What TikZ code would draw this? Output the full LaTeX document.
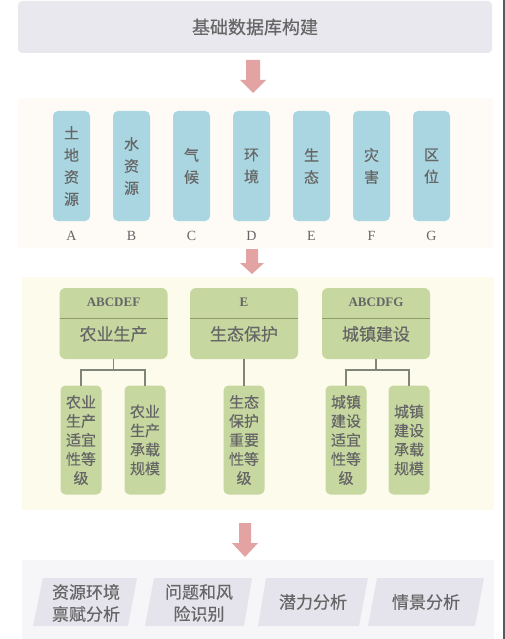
\documentclass[tikz,border=0pt]{standalone}
\usepackage{fontspec}
\setmainfont{Liberation Serif}
\newfontfamily\cjk[FakeBold=0.4]{Noto Sans CJK SC}
\definecolor{bannerc}{HTML}{E9E8EE}
\definecolor{arrowc}{HTML}{E3A3A2}
\definecolor{panelb}{HTML}{FEFAF5}
\definecolor{colc}{HTML}{A9D6E0}
\definecolor{panelc}{HTML}{FCFBEC}
\definecolor{greenc}{HTML}{C7D7A0}
\definecolor{greenl}{HTML}{8E9B6A}
\definecolor{linec}{HTML}{80857A}
\definecolor{paneld}{HTML}{F6F6F8}
\definecolor{parac}{HTML}{E5E4EC}
\definecolor{txtc}{HTML}{666666}
\definecolor{edgec}{HTML}{5A5A5A}
\begin{document}
\begin{tikzpicture}[x=1pt,y=-1pt,
  every node/.style={inner sep=0pt,outer sep=0pt,text=txtc},
  colbox/.style={rectangle,rounded corners=5pt,fill=colc,minimum width=37pt,minimum height=110pt,align=center,font=\cjk\fontsize{15}{22}\selectfont},
  letter/.style={font=\fontsize{14}{16}\selectfont},
  headbox/.style={rectangle,rounded corners=6pt,fill=greenc,minimum width=108pt,minimum height=71pt},
  headlab/.style={font=\bfseries\fontsize{13}{15}\selectfont},
  headtitle/.style={font=\cjk\fontsize{17}{20}\selectfont},
  subbox/.style={rectangle,rounded corners=5pt,fill=greenc,minimum width=41pt,minimum height=109pt,align=center,font=\cjk\fontsize{15}{19}\selectfont},
  conn/.style={draw=linec,line width=1.3pt},
  blockarrow/.style={fill=arrowc},
  paratext/.style={align=center,font=\cjk\fontsize{17}{22}\selectfont}
]
\useasboundingbox (0,0) rectangle (505,639);
\fill[white] (0,0) rectangle (505,639);
\fill[edgec] (503,0) rectangle (505,639);

% top banner
\node[fill=bannerc,rounded corners=4pt,minimum width=474pt,minimum height=52pt,font=\cjk\fontsize{18}{20}\selectfont] (top) at (255,27) {基础数据库构建};

% arrow 1
\fill[blockarrow] (246,60) -- (260,60) -- (260,80) -- (266,80) -- (253,93) -- (240,80) -- (246,80) -- cycle;

% panel 2
\node[fill=panelb,minimum width=475pt,minimum height=150pt] (p2) at (255.5,173) {};
\node[colbox] (cA) at (71.5,166) {土\\地\\资\\源};
\node[colbox] (cB) at (131.5,166) {水\\资\\源};
\node[colbox] (cC) at (191.5,166) {气\\候};
\node[colbox] (cD) at (251.5,166) {环\\境};
\node[colbox] (cE) at (311.5,166) {生\\态};
\node[colbox] (cF) at (371.5,166) {灾\\害};
\node[colbox] (cG) at (431.5,166) {区\\位};
\node[letter] (lA) at (71.5,236) {A};
\node[letter] (lB) at (131.5,236) {B};
\node[letter] (lC) at (191.5,236) {C};
\node[letter] (lD) at (251.5,236) {D};
\node[letter] (lE) at (311.5,236) {E};
\node[letter] (lF) at (371.5,236) {F};
\node[letter] (lG) at (431.5,236) {G};

% arrow 2
\fill[blockarrow] (246,249) -- (258,249) -- (258,263) -- (264,263) -- (252,274) -- (240,263) -- (246,263) -- cycle;

% panel 3
\node[fill=panelc,minimum width=472pt,minimum height=233pt] (p3) at (258,393.5) {};

\node[headbox] (g1) at (113.5,323.5) {};
\node[headbox] (g2) at (244,323.5) {};
\node[headbox] (g3) at (376,323.5) {};
\foreach \n in {g1,g2,g3}{
  \draw[greenl,line width=1pt] ([yshift=-30.5pt]\n.north west) -- ([yshift=-30.5pt]\n.north east);
}
\node[headlab] (h1) at (113.5,302.5) {ABCDEF};
\node[headlab] (h2) at (244,302.5) {E};
\node[headlab] (h3) at (376,302.5) {ABCDFG};
\node[headtitle] (t1) at (113.5,334) {农业生产};
\node[headtitle] (t2) at (244,334) {生态保护};
\node[headtitle] (t3) at (376,334) {城镇建设};

\node[subbox] (s1a) at (81,440) {农业\\生产\\适宜\\性等\\级};
\node[subbox] (s1b) at (145,440) {农业\\生产\\承载\\规模};
\node[subbox] (s2a) at (244,440) {生态\\保护\\重要\\性等\\级};
\node[subbox] (s3a) at (346,440) {城镇\\建设\\适宜\\性等\\级};
\node[subbox] (s3b) at (409,440) {城镇\\建设\\承载\\规模};

\draw[conn] (g1.south) -- ++(0,11) -| (s1a.north);
\draw[conn] (g1.south) -- ++(0,11) -| (s1b.north);
\draw[conn] (g2.south) -- (s2a.north);
\draw[conn] (g3.south) -- ++(0,11) -| (s3a.north);
\draw[conn] (g3.south) -- ++(0,11) -| (s3b.north);

% arrow 3
\fill[blockarrow] (239,523) -- (251,523) -- (251,543) -- (258,543) -- (245,557) -- (232,543) -- (239,543) -- cycle;

% bottom panel
\node[fill=paneld,minimum width=472pt,minimum height=79pt] (p4) at (258,599.5) {};
\fill[parac] (43,578) -- (137,578) -- (128,626) -- (33,626) -- cycle;
\fill[parac] (154,578) -- (252,578) -- (244,626) -- (145,626) -- cycle;
\fill[parac] (266,578) -- (368,578) -- (359,626) -- (258,626) -- cycle;
\fill[parac] (377,578) -- (484,578) -- (475,626) -- (368,626) -- cycle;
\node[paratext] (b1) at (86,603) {资源环境\\禀赋分析};
\node[paratext] (b2) at (199,603) {问题和风\\险识别};
\node[paratext] (b3) at (313,602) {潜力分析};
\node[paratext] (b4) at (426,602) {情景分析};
\end{tikzpicture}
\end{document}
